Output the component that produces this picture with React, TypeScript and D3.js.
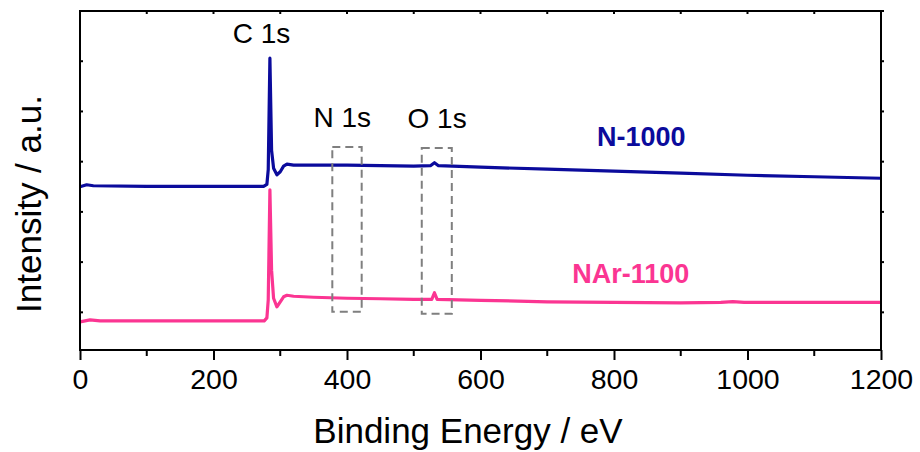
import React, { useEffect, useRef } from "react"
import * as d3 from "d3"

const W = 920
const H = 452
const MARGIN = { left: 80, right: 39, top: 11, bottom: 102 }
const FONT = "'Liberation Sans', Arial, Helvetica, sans-serif"

// binding energy (eV) / intensity (a.u., offset per sample)
const n1000Energy = [0, 10, 20, 100, 200, 275, 280, 282, 284.5, 287, 290, 295, 300, 305, 310, 320, 400, 500, 525, 531, 537, 600, 700, 800, 900, 1000, 1100, 1200]
const n1000Intensity = [2.5, 2.54, 2.52, 2.51, 2.51, 2.51, 2.55, 2.84, 5.06, 3.23, 2.87, 2.74, 2.8, 2.91, 2.95, 2.93, 2.93, 2.91, 2.92, 2.98, 2.92, 2.89, 2.85, 2.81, 2.77, 2.73, 2.7, 2.67]

const nar1100Energy = [0, 15, 30, 100, 200, 276, 280, 282, 284.5, 287, 290, 295, 300, 305, 310, 320, 350, 400, 450, 500, 527, 531, 535, 600, 700, 800, 900, 960, 978, 995, 1100, 1200]
const nar1100Intensity = [-0.19, -0.15, -0.17, -0.17, -0.17, -0.17, -0.11, 0.25, 2.44, 0.84, 0.28, 0.11, 0.21, 0.31, 0.34, 0.32, 0.3, 0.28, 0.27, 0.26, 0.26, 0.39, 0.26, 0.24, 0.21, 0.2, 0.19, 0.2, 0.215, 0.2, 0.2, 0.2]

const xTicks = [0, 200, 400, 600, 800, 1000, 1200]
const xMinorTicks = [100, 300, 500, 700, 900, 1100]
const yTicks = [0, 1, 2, 3, 4, 5, 6]

// dashed windows around N 1s and O 1s
const regionLabels = ["N 1s", "O 1s"]
const regionLo = [378, 512]
const regionHi = [422, 557]
const regionTop = [3.29, 3.27]
const regionBottom = [0.01, -0.03]

const peakLabels = ["C 1s", "N 1s", "O 1s"]
const peakEnergy = [272, 393, 535]
const peakY = [5.36, 3.7, 3.68]

const series = [
  { name: "N-1000", x: n1000Energy, y: n1000Intensity, color: "#0b0b9c", lx: 841, ly: 3.31 },
  { name: "NAr-1100", x: nar1100Energy, y: nar1100Intensity, color: "#fb3592", lx: 825, ly: 0.58 },
]

export default function App() {
  const svgRef = useRef<SVGSVGElement | null>(null)

  useEffect(() => {
    const svg = d3.select(svgRef.current)
    svg.selectAll("*").remove()

    const x = d3.scaleLinear().domain([0, 1200]).range([MARGIN.left, W - MARGIN.right])
    const y = d3.scaleLinear().domain([-0.75, 6]).range([H - MARGIN.bottom, MARGIN.top])
    const [x0, x1] = x.range()
    const [y0, y1] = y.range()

    // data lines
    const line = d3
      .line<[number, number]>()
      .x(d => x(d[0]))
      .y(d => y(d[1]))
      .curve(d3.curveLinear)

    series.forEach(s => {
      const pts = s.x.map((e, i) => [e, s.y[i]] as [number, number])
      svg
        .append("path")
        .attr("d", line(pts))
        .attr("fill", "none")
        .attr("stroke", s.color)
        .attr("stroke-width", 3.2)
        .attr("stroke-linejoin", "round")
    })

    // dashed boxes
    regionLabels.forEach((_, i) => {
      svg
        .append("rect")
        .attr("x", x(regionLo[i]))
        .attr("y", y(regionTop[i]))
        .attr("width", x(regionHi[i]) - x(regionLo[i]))
        .attr("height", y(regionBottom[i]) - y(regionTop[i]))
        .attr("fill", "none")
        .attr("stroke", "#7f7f7f")
        .attr("stroke-width", 2)
        .attr("stroke-dasharray", "8 5")
    })

    // frame
    svg
      .append("rect")
      .attr("x", x0)
      .attr("y", y1)
      .attr("width", x1 - x0)
      .attr("height", y0 - y1)
      .attr("fill", "none")
      .attr("stroke", "#000")
      .attr("stroke-width", 2)

    const bottom = svg.append("g").attr("transform", `translate(0,${y0})`)
    bottom
      .call(d3.axisBottom(x).tickValues(xTicks).tickSize(10).tickPadding(8).tickFormat(d3.format("d")))
      .call(g => g.select(".domain").remove())
      .call(g => g.selectAll("line").attr("stroke-width", 2))
      .call(g =>
        g
          .selectAll("text")
          .attr("font-family", FONT)
          .attr("font-size", 28.5)
          .attr("fill", "#000")
          .attr("dy", "0.72em"),
      )
    bottom
      .selectAll(".minor")
      .data(xMinorTicks)
      .join("line")
      .attr("x1", d => x(d))
      .attr("x2", d => x(d))
      .attr("y1", 0)
      .attr("y2", 6)
      .attr("stroke", "#000")
      .attr("stroke-width", 2)

    // top inward ticks
    svg
      .append("g")
      .selectAll("line")
      .data([...xTicks, ...xMinorTicks])
      .join("line")
      .attr("x1", d => x(d))
      .attr("x2", d => x(d))
      .attr("y1", y1)
      .attr("y2", y1 + 3)
      .attr("stroke", "#000")
      .attr("stroke-width", 2)

    // left / right small ticks
    svg
      .append("g")
      .selectAll("line")
      .data(yTicks)
      .join("line")
      .attr("x1", x0)
      .attr("x2", x0 + 3)
      .attr("y1", d => y(d))
      .attr("y2", d => y(d))
      .attr("stroke", "#000")
      .attr("stroke-width", 2)
    svg
      .append("g")
      .selectAll("line")
      .data(yTicks)
      .join("line")
      .attr("x1", x1)
      .attr("x2", x1 + 3)
      .attr("y1", d => y(d))
      .attr("y2", d => y(d))
      .attr("stroke", "#000")
      .attr("stroke-width", 2)

    // peak labels
    peakLabels.forEach((t, i) => {
      svg
        .append("text")
        .attr("x", x(peakEnergy[i]))
        .attr("y", y(peakY[i]))
        .attr("text-anchor", "middle")
        .attr("font-family", FONT)
        .attr("font-size", 28)
        .attr("fill", "#000")
        .text(t)
    })

    // sample labels
    series.forEach(s => {
      svg
        .append("text")
        .attr("x", x(s.lx))
        .attr("y", y(s.ly))
        .attr("text-anchor", "middle")
        .attr("font-family", FONT)
        .attr("font-size", 27)
        .attr("font-weight", "bold")
        .attr("fill", s.color)
        .text(s.name)
    })

    // axis titles
    svg
      .append("text")
      .attr("x", 468)
      .attr("y", 443)
      .attr("text-anchor", "middle")
      .attr("font-family", FONT)
      .attr("font-size", 35)
      .attr("fill", "#000")
      .text("Binding Energy / eV")

    svg
      .append("text")
      .attr("transform", "translate(41,204) rotate(-90)")
      .attr("text-anchor", "middle")
      .attr("font-family", FONT)
      .attr("font-size", 35)
      .attr("fill", "#000")
      .text("Intensity / a.u.")
  }, [])

  return (
    <svg
      ref={svgRef}
      width={W}
      height={H}
      style={{ position: "absolute", left: 0, top: 0, display: "block", background: "#fff" }}
    />
  )
}
